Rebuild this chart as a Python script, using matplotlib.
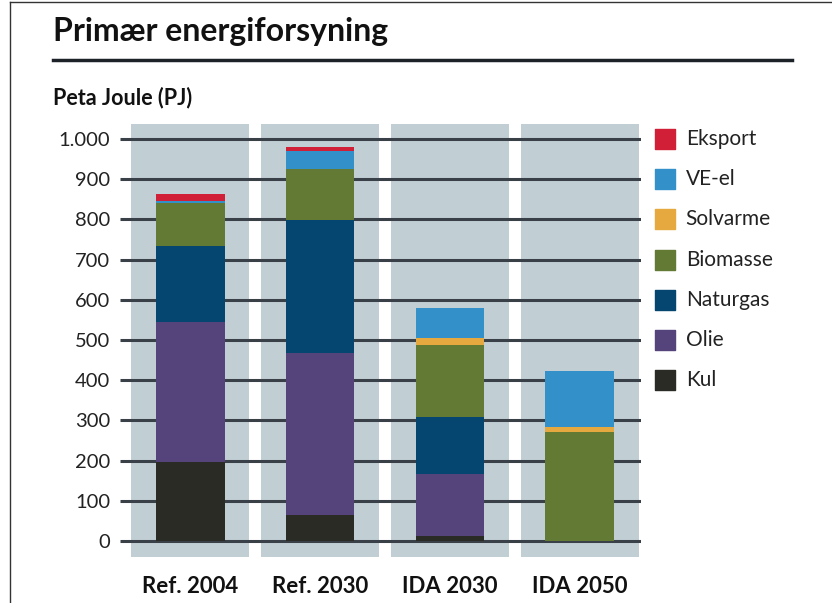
import matplotlib.pyplot as plt
from matplotlib.lines import Line2D
import numpy as np

plt.rcParams['font.family'] = ['Lato', 'DejaVu Sans']

categories = ['Ref. 2004', 'Ref. 2030', 'IDA 2030', 'IDA 2050']
kul = [197, 65, 12, 0]
olie = [348, 403, 155, 0]
naturgas = [190, 330, 141, 0]
biomasse = [106, 127, 180, 271]
solvarme = [1, 0, 17, 13]
ve_el = [4, 45, 75, 139]
eksport = [16, 10, 0, 0]

series = [('Kul', kul, '#2a2b25'),
          ('Olie', olie, '#55447c'),
          ('Naturgas', naturgas, '#04466f'),
          ('Biomasse', biomasse, '#627a33'),
          ('Solvarme', solvarme, '#e6a93f'),
          ('VE-el', ve_el, '#3390c8'),
          ('Eksport', eksport, '#d01f36')]

yticks = [0, 100, 200, 300, 400, 500, 600, 700, 800, 900, 1000]
ytick_labels = ['0', '100', '200', '300', '400', '500', '600', '700', '800', '900', '1.000']

fig = plt.figure(figsize=(8.32, 6.03), dpi=100)
ax = fig.add_axes([0.1442, 0.0695, 0.6262, 0.7333])
x = np.arange(len(categories))
xmin, xmax = -0.54, 3.47
ymin, ymax = -50, 1050

# grey background columns
ax.bar(x, 1077, bottom=-40, width=0.91, color='#c1ced3', zorder=1)

# gridlines
ax.hlines(yticks, xmin, xmax, color='#3a4048', lw=2.2, zorder=2)

bottom = np.zeros(len(categories))
for name, vals, col in series:
    vals = np.array(vals, dtype=float)
    ax.bar(x, vals, bottom=bottom, width=0.53, color=col, zorder=3, linewidth=0)
    bottom += vals

ax.set_xlim(xmin, xmax)
ax.set_ylim(ymin, ymax)
ax.set_yticks(yticks)
ax.set_yticklabels(ytick_labels, fontsize=14.5, color='#222222')
ax.set_xticks(x)
ax.set_xticklabels(categories, fontsize=16, fontweight='bold', color='#111111')
ax.tick_params(length=0, axis='y', pad=7)
ax.tick_params(length=0, axis='x', pad=11)
for s in ax.spines.values():
    s.set_visible(False)

# legend, top entry on 1000 line
for i, (name, vals, col) in enumerate(reversed(series)):
    yy = 1000 - 100 * i
    ax.scatter([3.652], [yy], marker='s', s=200, color=col, clip_on=False, zorder=4)
    ax.text(3.814, yy, name, fontsize=15, va='center', ha='left', color='#222222',
            clip_on=False)

fig.text(0.064, 0.948, 'Primær energiforsyning', fontsize=23, fontweight='bold',
         va='center', ha='left', color='#111111')
fig.add_artist(Line2D([0.064, 0.952], [0.900, 0.900], color='#1c2228', lw=2.5))
fig.text(0.064, 0.839, 'Peta Joule (PJ)', fontsize=15.5, fontweight='bold',
         va='center', ha='left', color='#111111')

# frame lines of the original clipping
fig.add_artist(Line2D([0.012, 0.012], [0, 0.997], color='#333333', lw=1))
fig.add_artist(Line2D([0.012, 1.0], [0.997, 0.997], color='#333333', lw=1))

fig.savefig('out.png', dpi=100)
